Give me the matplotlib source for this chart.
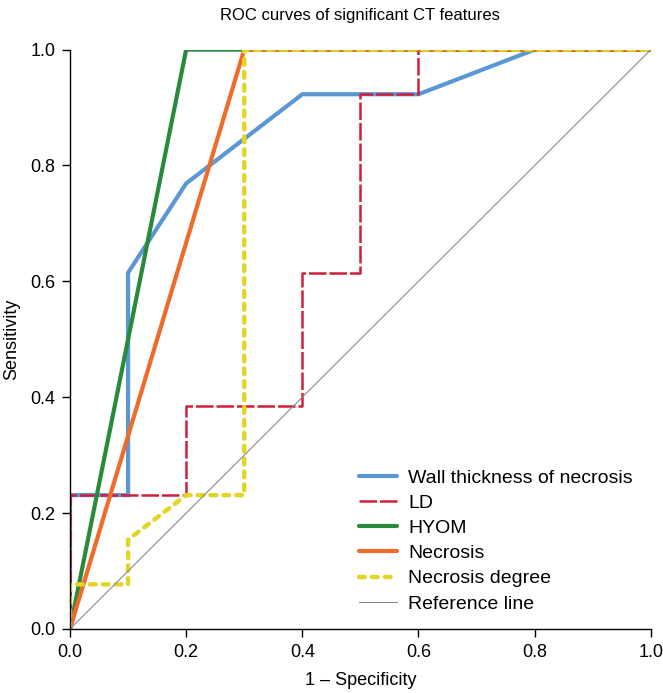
import matplotlib
matplotlib.use('Agg')
import matplotlib.pyplot as plt

plt.rcParams['font.family'] = ['Liberation Sans', 'DejaVu Sans']

# ROC curve points (1 - specificity, sensitivity)
WALL_X = [0, 0, 0.1, 0.1, 0.2, 0.3, 0.4, 0.6, 0.8, 1.0]
WALL_Y = [0, 0.231, 0.231, 0.615, 0.769, 0.846, 0.923, 0.923, 1.0, 1.0]

LD_X = [0, 0, 0.2, 0.2, 0.4, 0.4, 0.5, 0.5, 0.6, 0.6, 1.0]
LD_Y = [0, 0.231, 0.231, 0.385, 0.385, 0.615, 0.615, 0.923, 0.923, 1.0, 1.0]

HYOM_X = [0, 0.2, 1.0]
HYOM_Y = [0, 1.0, 1.0]

NECROSIS_X = [0, 0.3, 1.0]
NECROSIS_Y = [0, 1.0, 1.0]

DEGREE_X = [0, 0, 0.1, 0.1, 0.2, 0.3, 0.3, 1.0]
DEGREE_Y = [0, 0.077, 0.077, 0.154, 0.231, 0.231, 1.0, 1.0]

REF_X = [0, 1]
REF_Y = [0, 1]

TICKS = [0.0, 0.2, 0.4, 0.6, 0.8, 1.0]

fig = plt.figure(figsize=(6.63, 6.93), dpi=100)
ax = fig.add_axes([0.1056, 0.0924, 0.876, 0.836])

ax.plot(WALL_X, WALL_Y, color='#5b97d3', lw=3.0, label='Wall thickness of necrosis',
        solid_joinstyle='miter', solid_capstyle='round')
ax.plot(LD_X, LD_Y, color='#cf1f3c', lw=1.8, linestyle=(0, (7, 1.2)), label='LD')
ax.plot(HYOM_X, HYOM_Y, color='#2a8a3c', lw=3.0, label='HYOM', solid_capstyle='round')
ax.plot(NECROSIS_X, NECROSIS_Y, color='#f06a2a', lw=3.0, label='Necrosis',
        solid_capstyle='round')
ax.plot(DEGREE_X, DEGREE_Y, color='#e3d526', lw=3.2, linestyle=(0, (1.3, 1.6)),
        dash_capstyle='round', label='Necrosis degree')
ax.plot(REF_X, REF_Y, color='#8a8a8a', lw=0.8, label='Reference line')

ax.set_xlim(0, 1)
ax.set_ylim(0, 1)
ax.set_xticks(TICKS)
ax.set_yticks(TICKS)
ax.set_xticklabels(['%.1f' % t for t in TICKS])
ax.set_yticklabels(['%.1f' % t for t in TICKS])
ax.tick_params(direction='out', length=6, width=1, labelsize=13, pad=4.5)

for side in ['top', 'right']:
    ax.spines[side].set_visible(False)
for side in ['left', 'bottom']:
    ax.spines[side].set_linewidth(1)

ax.set_xlabel('1 \u2013 Specificity', fontsize=13, labelpad=8.5)
ax.set_ylabel('Sensitivity', fontsize=13, labelpad=7.5)
ax.set_title('ROC curves of significant CT features', fontsize=12, pad=21)

ax.legend(loc='upper left', bbox_to_anchor=(0.497, 0.276), frameon=False, fontsize=14,
          handlelength=1.95, handletextpad=0.6, labelspacing=0.39, borderpad=0,
          borderaxespad=0)

fig.savefig('out.png', dpi=100)
